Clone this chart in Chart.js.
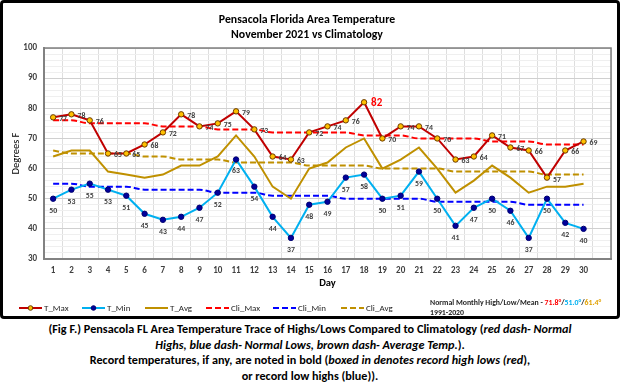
<!DOCTYPE html>
<html><head><meta charset="utf-8">
<script src="https://cdn.jsdelivr.net/npm/chart.js@4"></script>
<style>
html,body{margin:0;padding:0;background:#fff;}
#frame{position:absolute;left:0;top:0;width:620px;height:319px;box-sizing:border-box;border:3px solid #000;border-radius:4px;background:#fff;overflow:hidden;}
#frame canvas{display:block}
#cap{position:absolute;left:0;top:321px;width:620px;text-align:center;font-family:Carlito,'Liberation Sans Narrow','Liberation Sans',Arial,sans-serif;font-weight:bold;font-size:12.2px;line-height:15.5px;color:#000;}
</style></head>
<body>
<div id="frame"><canvas id="c" width="614" height="313"></canvas></div>
<div id="cap">(Fig F.) Pensacola FL Area Temperature Trace of Highs/Lows Compared to Climatology (<i>red dash- Normal</i><br><i>Highs, blue dash- Normal Lows, brown dash- Average Temp.</i>).<br>Record temperatures, if any, are noted in bold (<i>boxed in denotes record high lows (red</i>),<br>or record low highs (blue)).</div>
<script>
const FONT = "Carlito, 'Liberation Sans Narrow', 'Liberation Sans', Arial, sans-serif";

const days = ['1','2','3','4','5','6','7','8','9','10','11','12','13','14','15','16','17','18','19','20','21','22','23','24','25','26','27','28','29','30',''];
const tMax = [77,78,76,65,65,68,72,78,74,75,79,73,64,63,72,74,76,82,70,74,74,70,63,64,71,67,66,57,66,69];
const tMin = [50,53,55,53,51,45,43,44,47,52,63,54,44,37,48,49,57,58,50,51,59,50,41,47,50,46,37,50,42,40];
const tAvg = [64,66,66,59,58,57,58,61,61,64,71,64,54,50,60,62,67,70,60,63,67,60,52,56,61,57,52,54,54,55];
const cliMax = [76,76,75,75,75,75,74,74,74,73,73,73,72,72,72,72,72,71,71,71,70,70,70,70,69,69,69,68,68,68];
const cliMin = [55,55,54,54,54,53,53,53,53,52,52,52,51,51,51,51,50,50,50,50,50,49,49,49,49,49,48,48,48,48];
const cliAvg = [66,65,65,65,65,64,64,63,63,63,62,62,62,62,61,61,61,61,60,60,60,60,59,59,59,59,59,58,58,58];
const highlightDays = ['18'];
const normals = ['71.8°','51.0°','61.4°'];
const normalsPeriod = '1991-2020';

const valueLabels = {
  id:'valueLabels',
  afterDatasetsDraw(chart){
    const c = chart.ctx;
    c.save();
    c.textBaseline = 'middle';
    const mMax = chart.getDatasetMeta(0);
    mMax.data.forEach((p,i)=>{
      const hi = highlightDays.includes(days[i]);
      if (hi) {
        c.font = 'bold 11px ' + FONT; c.fillStyle = '#FF0000'; c.textAlign='left';
        c.fillText(String(tMax[i]), p.x + 7, p.y + 1);
      } else {
        c.font = 'bold 7.8px ' + FONT; c.fillStyle = '#404040'; c.textAlign='left';
        c.fillText(String(tMax[i]), p.x + 6, p.y + 2);
      }
    });
    const mMin = chart.getDatasetMeta(1);
    mMin.data.forEach((p,i)=>{
      c.font = 'bold 7.8px ' + FONT; c.fillStyle = '#404040'; c.textAlign='center';
      c.fillText(String(tMin[i]), p.x, p.y + 12);
    });
    c.restore();
  }
};

const plotBox = {
  id:'plotBox',
  afterDraw(chart){
    const a = chart.chartArea, c = chart.ctx;
    c.save();
    c.strokeStyle = '#7f7f7f'; c.lineWidth = 1.5;
    c.strokeRect(a.left, a.top, a.right - a.left, a.bottom - a.top);
    c.restore();
  }
};

const customLegend = {
  id:'customLegend',
  afterDraw(chart){
    const c = chart.ctx;
    const xs = [16,79,142,203,270,338];
    const y = 305;
    c.save();
    chart.data.datasets.forEach((ds,i)=>{
      const x = xs[i];
      c.beginPath();
      c.setLineDash(ds.borderDash || []);
      c.strokeStyle = ds.borderColor; c.lineWidth = 2;
      c.moveTo(x, y); c.lineTo(x + 23, y); c.stroke();
      c.setLineDash([]);
      if (ds.pointRadius > 0) {
        c.beginPath(); c.arc(x + 11.5, y, 2.3, 0, Math.PI*2);
        c.fillStyle = ds.pointBackgroundColor; c.fill();
        c.lineWidth = 1; c.strokeStyle = ds.pointBorderColor; c.stroke();
      }
      c.font = '9px ' + FONT; c.fillStyle = '#262626';
      c.textAlign = 'left'; c.textBaseline = 'middle';
      c.fillText(ds.label, x + 25, y + 0.5);
    });
    c.font = 'bold 7.8px ' + FONT; c.textBaseline = 'middle'; c.textAlign = 'left';
    const parts = [['Normal Monthly High/Low/Mean - ','#262626'],[normals[0],'#FF0000'],['/','#262626'],[normals[1],'#00B0F0'],['/','#262626'],[normals[2],'#E0A000']];
    let nx = 427;
    parts.forEach(([t,col])=>{ c.fillStyle = col; c.fillText(t, nx, 300); nx += c.measureText(t).width; });
    c.fillStyle = '#262626';
    c.fillText(normalsPeriod, 427, 310);
    c.restore();
  }
};

new Chart(document.getElementById('c'), {
  type:'line',
  data:{
    labels: days,
    datasets:[
      {label:'T_Max', data:tMax, borderColor:'#C00000', borderWidth:2, pointRadius:2.7, pointBackgroundColor:'#FFC000', pointBorderColor:'#6B3A00', pointBorderWidth:1, tension:0},
      {label:'T_Min', data:tMin, borderColor:'#00B0F0', borderWidth:2, pointRadius:2.7, pointBackgroundColor:'#00009C', pointBorderColor:'#000070', pointBorderWidth:1, tension:0},
      {label:'T_Avg', data:tAvg, borderColor:'#BF9000', borderWidth:2, pointRadius:0, tension:0},
      {label:'Cli_Max', data:cliMax, borderColor:'#FF0000', borderWidth:2, borderDash:[6,3], pointRadius:0, cubicInterpolationMode:'monotone'},
      {label:'Cli_Min', data:cliMin, borderColor:'#0000FF', borderWidth:2, borderDash:[6,3], pointRadius:0, cubicInterpolationMode:'monotone'},
      {label:'Cli_Avg', data:cliAvg, borderColor:'#BF9000', borderWidth:2, borderDash:[6,3], pointRadius:0, cubicInterpolationMode:'monotone'}
    ]
  },
  options:{
    responsive:false, animation:false, devicePixelRatio:1,
    layout:{padding:{left:0,right:6,top:0,bottom:26.7}},
    plugins:{
      legend:{display:false}, tooltip:{enabled:false},
      title:{display:true, text:['Pensacola Florida Area Temperature','November 2021 vs Climatology'], color:'#000',
        font:{family:FONT,size:11.8,weight:'bold',lineHeight:1.28}, padding:{top:9.8,bottom:5.0}}
    },
    scales:{
      x:{
        offset:true,
        grid:{offset:true, color:'#dedede', drawTicks:false},
        border:{display:true, color:'#8c8c8c', width:2},
        ticks:{padding:6, color:'#404040', font:{family:FONT,size:9,weight:'bold'}, maxRotation:0, autoSkip:false},
        title:{display:true, text:'Day', color:'#000', font:{family:FONT,size:10.5,weight:'bold',lineHeight:1.2}, padding:{top:0,bottom:0}},
        afterFit(s){ s.height = 30.3; }
      },
      y:{
        min:30, max:100,
        grid:{color:(ctx)=> (ctx.tick && ctx.tick.value % 10 === 0) ? '#d0d0d0' : '#efefef', drawTicks:false},
        border:{display:true, color:'#8c8c8c', width:2},
        ticks:{stepSize:2, autoSkip:false, padding:7, color:'#404040', font:{family:FONT,size:9,weight:'bold'},
          callback:(v)=> (v % 10 === 0 ? String(v) : '')},
        title:{display:true, text:'Degrees F', color:'#000', font:{family:FONT,size:10.5,lineHeight:1.2}, padding:{top:6.7,bottom:0}},
        afterFit(s){ s.width = 41; }
      }
    }
  },
  plugins:[plotBox, valueLabels, customLegend]
});
</script>
</body></html>
